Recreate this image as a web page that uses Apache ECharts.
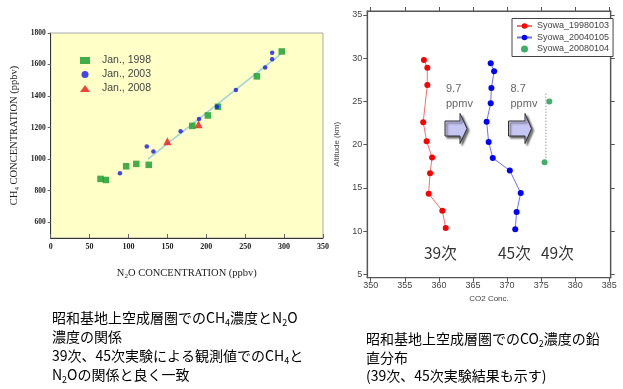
<!DOCTYPE html>
<html><head><meta charset="utf-8">
<script src="https://cdn.jsdelivr.net/npm/echarts@6/dist/echarts.min.js"></script>
<style>html,body{margin:0;padding:0;background:#fff}#c{width:623px;height:389px}</style>
</head><body><div id="c"></div>
<script>
// ---- Left chart: CH4 vs N2O ----
const n2o98 = [64, 71, 97, 110, 126, 182, 202, 215, 265, 297];
const ch498 = [875, 868, 955, 970, 964, 1211, 1277, 1332, 1525, 1683];
const n2o03 = [89, 123.5, 132, 167, 190.6, 213.7, 238, 275.6, 284.6, 284.6];
const ch403 = [910, 1081, 1049, 1177, 1255, 1332, 1438, 1581, 1634, 1674];
const n2o08 = [150, 190];
const ch408 = [1113, 1221];
const fitN2O = [125, 296];
const fitCH4 = [1000, 1668];
const leftXTicks = [0, 50, 100, 150, 200, 250, 300, 350];
const leftYTicks = [600, 800, 1000, 1200, 1400, 1600, 1800];
const leftNames = ['Jan., 1998', 'Jan., 2003', 'Jan., 2008'];

// ---- Right chart: CO2 vertical profile ----
const alt98 = [29.8, 28.9, 26.9, 22.6, 20.4, 18.5, 16.7, 14.3, 12.35, 10.35];
const co298 = [357.8, 358.3, 358.3, 357.7, 358.2, 359.0, 358.7, 358.5, 360.5, 361.0];
const alt04 = [29.4, 28.5, 26.55, 24.8, 22.65, 20.3, 18.45, 17.0, 14.4, 12.2, 10.2];
const co204 = [367.6, 368.1, 367.7, 367.6, 367.0, 367.3, 367.9, 370.4, 372.0, 371.4, 371.2];
const alt08 = [25.0, 17.95];
const co208 = [376.2, 375.5];
const guideCO2 = [375.7, 375.7];
const guideAlt = [25.9, 18.0];
const rightXTicks = [350, 355, 360, 365, 370, 375, 380, 385];
const rightYTicks = [5, 10, 15, 20, 25, 30, 35];
const rightNames = ['Syowa_19980103', 'Syowa_20040105', 'Syowa_20080104'];

const pairs = (xs, ys) => xs.map((x, i) => [x, ys[i]]);

const serif = 'Liberation Serif';
const sans = 'Liberation Sans';
const cjk = '"Noto Sans CJK JP"';
const chart = echarts.init(document.getElementById('c'), null, {renderer: 'canvas'});

const frame = '#555';
const rAxisCommon = {
  axisLine: {show: true, lineStyle: {color: frame, width: 1.2}},
  splitLine: {show: false}
};

const bodyRich = {
  a: {fontSize: 14, fontFamily: cjk, color: '#222', lineHeight: 18},
  s: {fontSize: 9, fontFamily: cjk, color: '#222', lineHeight: 9, verticalAlign: 'bottom'}
};
function txt(x, y, t) {
  return {type: 'text', left: x, top: y, style: {text: t, rich: bodyRich}};
}
function arrow(x0, x1, xh) {
  return {
    type: 'polygon',
    shape: {points: [[x0, 121], [xh, 121], [xh, 113.5], [x1, 128.5], [xh, 143.5], [xh, 136], [x0, 136]]},
    style: {fill: '#c6c6f2', stroke: '#333', lineWidth: 1, shadowColor: 'rgba(0,0,0,0.55)', shadowBlur: 2, shadowOffsetX: 2, shadowOffsetY: 2}
  };
}

chart.setOption({
  animation: false,
  backgroundColor: '#fff',
  grid: [
    {left: 50.7, top: 33, right: 300, bottom: 151, show: true, backgroundColor: '#ffffc8', borderColor: '#aaa', borderWidth: 1},
    {left: 367.3, top: 11, right: 12.3, bottom: 111.3, show: true, backgroundColor: '#fff', borderColor: frame, borderWidth: 1.2}
  ],
  legend: [
    {
      data: leftNames, orient: 'vertical', left: 80, top: 55, itemGap: 3, itemWidth: 10, itemHeight: 7,
      symbolKeepAspect: true,
      padding: 0, textStyle: {fontSize: 10.5, fontFamily: sans, color: '#444', padding: [0, 0, 0, 7]}
    },
    {
      data: rightNames, orient: 'vertical', left: 512, top: 18.5, itemGap: 2.5, itemWidth: 15, itemHeight: 7,
      padding: [3, 4, 3, 4], borderColor: '#444', borderWidth: 1, backgroundColor: '#fff',
      textStyle: {fontSize: 9, fontFamily: sans, color: '#444'}
    }
  ],
  xAxis: [
    {
      gridIndex: 0, type: 'value', min: 0, max: 350, interval: 50,
      name: '{a|N}{s|2}{a|O CONCENTRATION (ppbv)}', nameLocation: 'middle', nameGap: 29,
      nameTextStyle: {rich: {a: {fontFamily: serif, fontSize: 10.5, color: '#222', lineHeight: 13}, s: {fontFamily: serif, fontSize: 7, color: '#222', lineHeight: 7, verticalAlign: 'bottom'}}},
      axisLine: {show: true, lineStyle: {color: '#333', width: 1}},
      axisTick: {show: true, inside: true, length: 4, lineStyle: {color: '#666'}},
      axisLabel: {fontFamily: serif, fontWeight: 'bold', fontSize: 8, color: '#222', margin: 5},
      splitLine: {show: false}
    },
    Object.assign({
      gridIndex: 1, type: 'value', min: 349.5, max: 385.2,
      name: 'CO2 Conc.', nameLocation: 'middle', nameGap: 17,
      nameTextStyle: {fontFamily: sans, fontSize: 8, color: '#444'},
      axisTick: {show: true, inside: false, length: 4, customValues: rightXTicks, lineStyle: {color: frame}},
      axisLabel: {fontFamily: sans, fontSize: 9, color: '#444', margin: 3, customValues: rightXTicks}
    }, rAxisCommon),
    Object.assign({
      gridIndex: 1, type: 'value', min: 349.5, max: 385.2, position: 'top',
      axisTick: {show: true, inside: false, length: 4, customValues: rightXTicks, lineStyle: {color: frame}},
      axisLabel: {show: false, customValues: rightXTicks}
    }, rAxisCommon)
  ],
  yAxis: [
    {
      gridIndex: 0, type: 'value', min: 500, max: 1800,
      name: '{a|CH}{s|4}{a| CONCENTRATION (ppbv)}', nameLocation: 'middle', nameGap: 30, nameRotate: 90,
      nameTextStyle: {rich: {a: {fontFamily: serif, fontSize: 10.5, color: '#222', lineHeight: 13}, s: {fontFamily: serif, fontSize: 7, color: '#222', lineHeight: 7, verticalAlign: 'bottom'}}},
      axisLine: {show: true, lineStyle: {color: '#333', width: 1}},
      axisTick: {show: true, inside: false, length: 3, customValues: leftYTicks, lineStyle: {color: '#666'}},
      axisLabel: {fontFamily: serif, fontWeight: 'bold', fontSize: 7.5, color: '#222', margin: 5, customValues: leftYTicks,
        formatter: v => String(v)},
      splitLine: {show: false}
    },
    Object.assign({
      gridIndex: 1, type: 'value', min: 4.6, max: 35.46,
      name: 'Altitude (km)', nameLocation: 'middle', nameGap: 27, nameRotate: 90,
      nameTextStyle: {fontFamily: sans, fontSize: 8, color: '#444'},
      axisTick: {show: true, inside: false, length: 4, customValues: rightYTicks, lineStyle: {color: frame}},
      axisLabel: {fontFamily: sans, fontSize: 9, color: '#444', margin: 5, customValues: rightYTicks}
    }, rAxisCommon),
    Object.assign({
      gridIndex: 1, type: 'value', min: 4.6, max: 35.46, position: 'right',
      axisTick: {show: true, inside: false, length: 4, customValues: rightYTicks, lineStyle: {color: frame}},
      axisLabel: {show: false, customValues: rightYTicks}
    }, rAxisCommon)
  ],
  series: [
    {type: 'line', name: 'fit', xAxisIndex: 0, yAxisIndex: 0, data: pairs(fitN2O, fitCH4), showSymbol: false, symbol: 'none',
      lineStyle: {color: '#9dd4dc', width: 1.5}, silent: true, z: 1},
    {type: 'scatter', name: leftNames[0], xAxisIndex: 0, yAxisIndex: 0, data: pairs(n2o98, ch498), symbol: 'rect', symbolSize: 6.5,
      itemStyle: {color: '#129a2a'}, z: 3},
    {type: 'scatter', name: leftNames[1], xAxisIndex: 0, yAxisIndex: 0, data: pairs(n2o03, ch403), symbol: 'circle', symbolSize: 4.5,
      itemStyle: {color: '#1515f0'}, z: 4},
    {type: 'scatter', name: leftNames[2], xAxisIndex: 0, yAxisIndex: 0, data: pairs(n2o08, ch408), symbol: 'triangle', symbolSize: 8,
      itemStyle: {color: '#ee1515'}, z: 4},

    {type: 'line', name: rightNames[0], xAxisIndex: 1, yAxisIndex: 1, data: pairs(co298, alt98), symbol: 'circle', symbolSize: 6, showSymbol: true,
      lineStyle: {color: '#f07070', width: 1}, itemStyle: {color: '#ff0000'}},
    {type: 'line', name: rightNames[1], xAxisIndex: 1, yAxisIndex: 1, data: pairs(co204, alt04), symbol: 'circle', symbolSize: 6, showSymbol: true,
      lineStyle: {color: '#7070f0', width: 1}, itemStyle: {color: '#0000ff'}},
    {type: 'line', name: 'guide', xAxisIndex: 1, yAxisIndex: 1, data: pairs(guideCO2, guideAlt), symbol: 'none',
      lineStyle: {color: '#999', width: 1, type: [1.5, 1.5]}, silent: true},
    {type: 'scatter', name: rightNames[2], xAxisIndex: 1, yAxisIndex: 1, data: pairs(co208, alt08), symbol: 'circle', symbolSize: 6,
      itemStyle: {color: '#119a44'}}
  ],
  graphic: [
    arrow(445, 467, 460),
    arrow(508.5, 531.5, 525),
    {type: 'text', left: 446, top: 81, style: {text: '9.7\nppmv', fontSize: 11, fontFamily: sans, fill: '#666', lineHeight: 15}},
    {type: 'text', left: 510.5, top: 81, style: {text: '8.7\nppmv', fontSize: 11, fontFamily: sans, fill: '#666', lineHeight: 15}},
    {type: 'text', left: 424, top: 245, style: {text: '39次', fontSize: 15.5, fontFamily: cjk, fill: '#333'}},
    {type: 'text', left: 498, top: 245, style: {text: '45次', fontSize: 15.5, fontFamily: cjk, fill: '#333'}},
    {type: 'text', left: 541, top: 245, style: {text: '49次', fontSize: 15.5, fontFamily: cjk, fill: '#333'}},
    txt(52, 311, '{a|昭和基地上空成層圏でのCH}{s|4}{a|濃度とN}{s|2}{a|O}'),
    txt(52, 330, '{a|濃度の関係}'),
    txt(52, 349, '{a|39次、45次実験による観測値でのCH}{s|4}{a|と}'),
    txt(52, 368, '{a|N}{s|2}{a|Oの関係と良く一致}'),
    txt(366, 332, '{a|昭和基地上空成層圏でのCO}{s|2}{a|濃度の鉛}'),
    txt(366, 351, '{a|直分布}'),
    txt(366, 369, '{a|(39次、45次実験結果も示す)}')
  ]
});
</script></body></html>
